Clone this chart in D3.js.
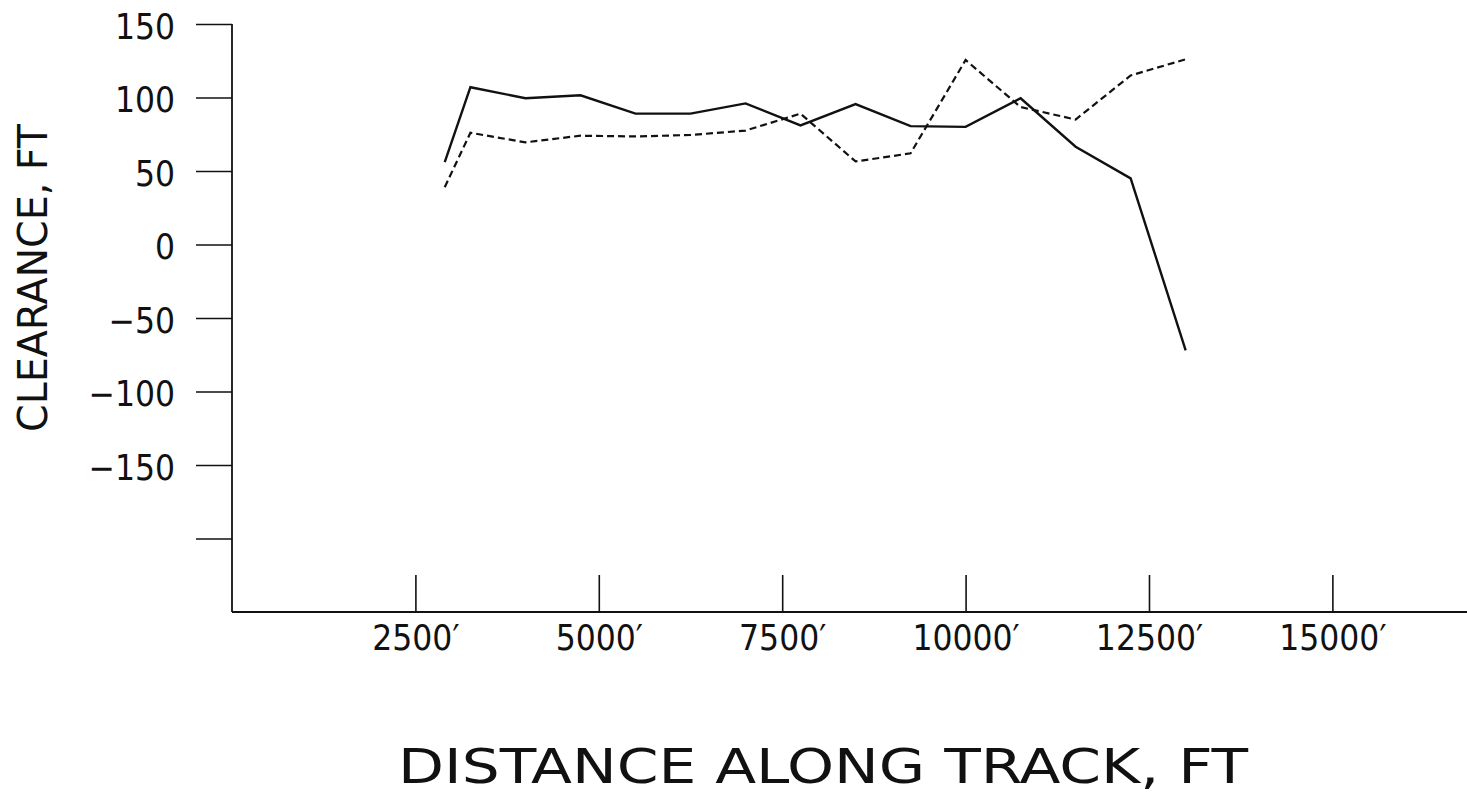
<!DOCTYPE html>
<html>
<head>
<meta charset="utf-8">
<script src="https://cdn.jsdelivr.net/npm/d3@7"></script>
<style>
  html, body { margin: 0; padding: 0; background: #fff; }
  svg { display: block; }
  text { font-family: "DejaVu Sans Condensed", "Liberation Sans Narrow", "Liberation Sans", sans-serif; fill: #111; font-weight: 300; }
</style>
</head>
<body>
<svg id="chart" width="1467" height="796"></svg>
<script>
// Data
const distance = [2900, 3250, 4000, 4750, 5500, 6250, 7000, 7750, 8500, 9250, 10000, 10750, 11500, 12250, 13000];
const solidClearance = [56, 107, 99.5, 101.5, 89, 89, 96, 81, 95.5, 80.5, 80, 99.5, 66.5, 45, -72];
const dashedClearance = [39, 76, 69.5, 74, 73.5, 74.5, 77.5, 89, 56.5, 62, 125.5, 93.5, 85, 115, 126];
const yTickValues = [-200, -150, -100, -50, 0, 50, 100, 150];
const yTickLabels = ["", "\u2212150", "\u2212100", "\u221250", "0", "50", "100", "150"];
const xTickValues = [2500, 5000, 7500, 10000, 12500, 15000];
const xTickLabels = ["2500\u2032", "5000\u2032", "7500\u2032", "10000\u2032", "12500\u2032", "15000\u2032"];
const xTitle = "DISTANCE ALONG TRACK, FT";
const yTitle = "CLEARANCE, FT";

const svg = d3.select("#chart");
const x = d3.scaleLinear().domain([0, 16835]).range([232, 1467]);
const y = d3.scaleLinear().domain([-250, 150]).range([612, 24]);

// Y axis
const yAxis = d3.axisLeft(y)
  .tickValues(yTickValues)
  .tickFormat((d, i) => yTickLabels[i])
  .tickSize(36)
  .tickSizeOuter(0)
  .tickPadding(21);
const gy = svg.append("g").attr("transform", "translate(232,0)").call(yAxis);
gy.select(".domain").remove();
gy.selectAll(".tick line").attr("stroke", "#111").attr("stroke-width", 1.6);
gy.selectAll(".tick text").attr("font-size", 35).attr("fill", "#111").attr("dy", "0.4em");
svg.append("line").attr("x1", 232).attr("x2", 232).attr("y1", y(150)).attr("y2", y(-250))
  .attr("stroke", "#111").attr("stroke-width", 1.8);

// X axis
const xAxis = d3.axisBottom(x)
  .tickValues(xTickValues)
  .tickFormat((d, i) => xTickLabels[i])
  .tickSize(-37)
  .tickSizeOuter(0)
  .tickPadding(13);
const gx = svg.append("g").attr("transform", "translate(0,612)").call(xAxis);
gx.select(".domain").remove();
gx.selectAll(".tick line").attr("stroke", "#111").attr("stroke-width", 1.6);
gx.selectAll(".tick text").attr("font-size", 35).attr("fill", "#111");
svg.append("line").attr("x1", 232).attr("x2", 1467).attr("y1", 612).attr("y2", 612)
  .attr("stroke", "#111").attr("stroke-width", 1.8);

// Lines
const line = d3.line().x(d => x(d[0])).y(d => y(d[1]));
svg.append("path")
  .datum(distance.map((d, i) => [d, solidClearance[i]]))
  .attr("d", line).attr("fill", "none").attr("stroke", "#111").attr("stroke-width", 2.4);
svg.append("path")
  .datum(distance.map((d, i) => [d, dashedClearance[i]]))
  .attr("d", line).attr("fill", "none").attr("stroke", "#111").attr("stroke-width", 2.2)
  .attr("stroke-dasharray", "7,4");

// Titles
svg.append("text").attr("x", 823).attr("y", 783).attr("text-anchor", "middle")
  .attr("font-size", 48).attr("textLength", 850).attr("lengthAdjust", "spacingAndGlyphs")
  .text(xTitle);
svg.append("text").attr("transform", "translate(47,278) rotate(-90)").attr("text-anchor", "middle")
  .attr("font-size", 40).attr("textLength", 308).attr("lengthAdjust", "spacingAndGlyphs")
  .text(yTitle);
</script>
</body>
</html>
